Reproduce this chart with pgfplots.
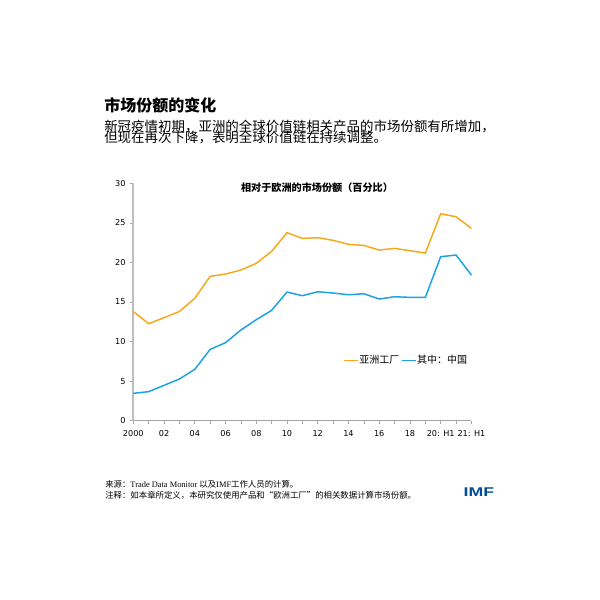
\documentclass[border=0pt]{standalone}
\usepackage{fontspec}
\usepackage{pgfplots}
\pgfplotsset{compat=1.18}
\setmainfont{DejaVu Sans}
\newfontfamily\cjk{Noto Sans CJK SC}
\newfontfamily\serifl{Liberation Serif}
\newfontfamily\sansl{Liberation Sans}
\definecolor{aforange}{RGB}{245,168,28}
\definecolor{cnblue}{RGB}{27,161,226}
\definecolor{imfblue}{RGB}{0,76,151}
\definecolor{axgray}{RGB}{190,190,190}
\begin{document}
\begin{tikzpicture}[x=0.75pt,y=0.75pt]
\useasboundingbox (0,0) rectangle (600,600);
\coordinate (O) at (133.3,179.3);
% titles
\node[anchor=base west,inner sep=0pt,font=\cjk\bfseries\fontsize{12}{13}\selectfont] at (104,488) {市场份额的变化};
\node[anchor=base west,inner sep=0pt,font=\cjk\fontsize{10.1}{11}\selectfont] at (104,468.5) {新冠疫情初期，亚洲的全球价值链相关产品的市场份额有所增加，};
\node[anchor=base west,inner sep=0pt,font=\cjk\fontsize{10.1}{11}\selectfont] at (104,457) {但现在再次下降，表明全球价值链在持续调整。};
\node[inner sep=0pt,font=\cjk\bfseries\fontsize{7.6}{8}\selectfont] at (317,412) {相对于欧洲的市场份额（百分比）};
% footer
\node[anchor=west,inner sep=0pt,font=\fontsize{6.3}{7}\selectfont] at (105,116) {\cjk 来源：\serifl Trade Data Monitor \cjk 以及\serifl IMF\cjk 工作人员的计算。};
\node[anchor=west,inner sep=0pt,font=\cjk\fontsize{6.3}{7}\selectfont] at (105,105) {注释：如本章所定义，本研究仅使用产品和“欧洲工厂”的相关数据计算市场份额。};
\node[inner sep=0pt,text=imfblue,font=\sansl\bfseries\fontsize{9.5}{10}\selectfont,xscale=1.4] at (479,108) {IMF};
\begin{axis}[
  at={(O)}, anchor=south west,
  scale only axis, width=253.6pt, height=178pt,
  xmin=0, xmax=22, ymin=0, ymax=30,
  axis x line*=bottom, axis y line*=left,
  x axis line style={-,draw=gray!70,line width=0.6pt},
  y axis line style={-,draw=axgray,line width=1.6pt},
  xtick={0,...,22},
  xticklabels={2000,,02,,04,,06,,08,,10,,12,,14,,16,,18,,{20: H1},,{21: H1}},
  ytick={0,5,...,30},
  tick align=outside, major tick length=2.25pt,
  tick style={draw=gray!70,line width=0.5pt},
  /pgf/number format/assume math mode=true,
  tick label style={font=\fontsize{6.1}{7}\selectfont},
  xticklabel style={yshift=-1.5pt},
  legend style={at={(0.62,0.253)},anchor=west,draw=none,fill=none,
    font=\cjk\fontsize{7.5}{8}\selectfont, inner sep=0pt,
    nodes={inner xsep=0.6pt},
    /tikz/every even column/.append style={column sep=0.5pt}},
  legend columns=2,
  legend image code/.code={\draw[#1,line width=1.1pt] (0pt,0pt) -- (10.5pt,0pt);},
  clip=false,
]
\addplot[color=aforange,line width=1.1pt,mark=none] coordinates {
(0,13.8)(1,12.26)(2,13.03)(3,13.8)(4,15.47)(5,18.25)(6,18.54)(7,19.04)(8,19.89)(9,21.4)(10,23.76)(11,23.05)(12,23.13)(13,22.8)(14,22.29)(15,22.16)(16,21.57)(17,21.78)(18,21.49)(19,21.19)(20,26.16)(21,25.78)(22,24.31)};
\addlegendentry{亚洲工厂}
\addplot[color=cnblue,line width=1.1pt,mark=none] coordinates {
(0,3.46)(1,3.67)(2,4.47)(3,5.27)(4,6.49)(5,9.02)(6,9.86)(7,11.46)(8,12.76)(9,13.95)(10,16.26)(11,15.8)(12,16.3)(13,16.14)(14,15.92)(15,16.05)(16,15.38)(17,15.67)(18,15.59)(19,15.59)(20,20.73)(21,20.94)(22,18.41)};
\addlegendentry{其中：中国}
\end{axis}
\end{tikzpicture}
\end{document}
